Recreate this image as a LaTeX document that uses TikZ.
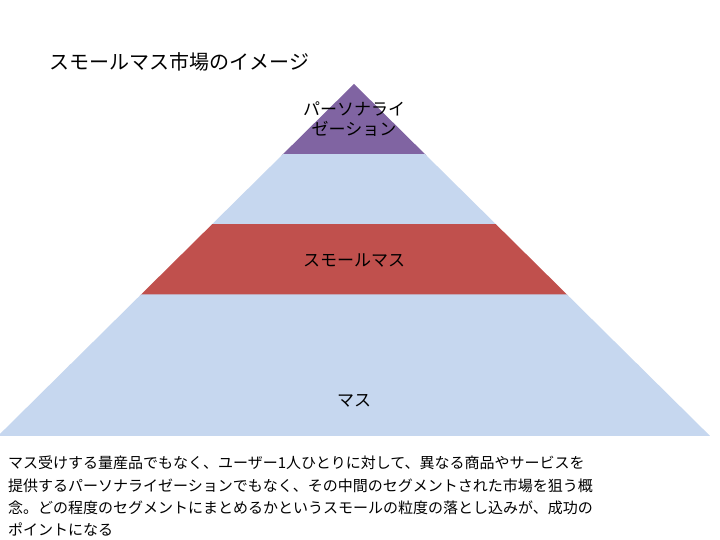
\documentclass[tikz,border=0pt]{standalone}
\usepackage{fontspec}
\setmainfont{Noto Sans CJK JP}
\definecolor{pur}{HTML}{8064A2}
\definecolor{lb}{HTML}{C6D7EF}
\definecolor{rd}{HTML}{C0504D}
\begin{document}
\begin{tikzpicture}[x=1pt,y=-1pt,
  band/.style={draw=white,line width=1.5pt},
  lab/.style={font=\fontsize{17}{20}\selectfont,align=center},
  body/.style={anchor=west,font=\fontsize{15}{18}\selectfont,inner sep=0}]
\useasboundingbox (0,0) rectangle (720,540);
\fill[white] (0,0) rectangle (720,540);
% half-width w(y) = (y-85)*1.0114, center 354
\def\hw#1{((#1-85)*1.0114)}
\fill[band,pur] (354,85) -- ({354+70.8},155) -- ({354-70.8},155) -- cycle;
\filldraw[band,lb] ({354-70.8},155) -- ({354+70.8},155) -- ({354+141.6},225) -- ({354-141.6},225) -- cycle;
\filldraw[band,rd] ({354-141.6},225) -- ({354+141.6},225) -- ({354+212.4},295) -- ({354-212.4},295) -- cycle;
\filldraw[band,lb] ({354-212.4},295) -- ({354+212.4},295) -- ({354+283.2},365) -- ({354-283.2},365) -- cycle;
\filldraw[band,lb] ({354-283.2},365) -- ({354+283.2},365) -- ({354+354},435) -- ({354-354},435) -- cycle;
\node[anchor=west,font=\fontsize{20}{24}\selectfont] (title) at (46,62) {スモールマス市場のイメージ};
\node[lab] (p) at (354,119) {パーソナライ\\ゼーション};
\node[lab] (s) at (354,261) {スモールマス};
\node[lab] (m) at (354,401) {マス};
\node[body] (t1) at (8,463) {マス受けする量産品でもなく、ユーザー1人ひとりに対して、異なる商品やサービスを};
\node[body] (t2) at (8,486) {提供するパーソナライゼーションでもなく、その中間のセグメントされた市場を狙う概};
\node[body] (t3) at (8,508) {念。どの程度のセグメントにまとめるかというスモールの粒度の落とし込みが、成功の};
\node[body] (t4) at (8,530) {ポイントになる};
\end{tikzpicture}
\end{document}
